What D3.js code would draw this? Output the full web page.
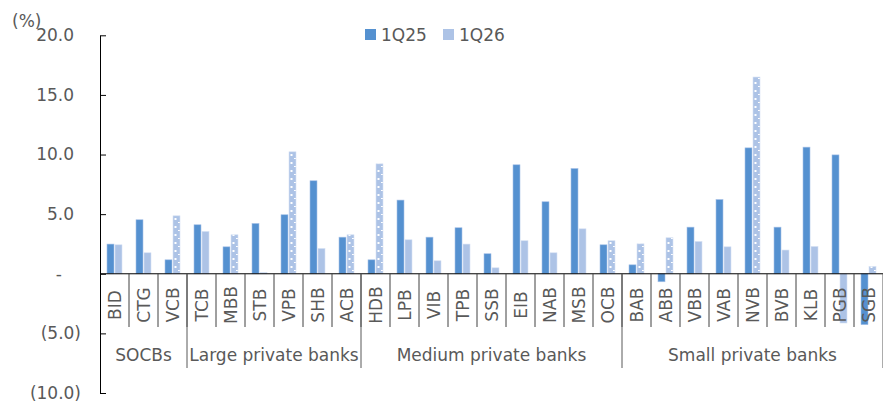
<!DOCTYPE html>
<html>
<head>
<meta charset="utf-8">
<script src="https://cdn.jsdelivr.net/npm/d3@7"></script>
<style>
  body { margin: 0; background: #fff; }
  text { font-family: "DejaVu Sans", Verdana, sans-serif; fill: #595959; }
</style>
</head>
<body>
<div id="chart"></div>
<script>
// size of the picture
let w = 883;
let h = 407;
let fontSize = "17px";
let darkBlue = "#5591d0";
let lightBlue = "#adc3e6";

// data
let banks = ["BID","CTG","VCB","TCB","MBB","STB","VPB","SHB","ACB",
             "HDB","LPB","VIB","TPB","SSB","EIB","NAB","MSB","OCB",
             "BAB","ABB","VBB","VAB","NVB","BVB","KLB","PGB","SGB"];
let groupNames = ["SOCBs", "Large private banks", "Medium private banks", "Small private banks"];
let groupSizes = [3, 6, 9, 9];
let seriesNames = ["1Q25", "1Q26"];
let q25 = [2.49, 4.53, 1.17, 4.11, 2.26, 4.22, 4.95, 7.80, 3.07,
           1.17, 6.18, 3.07, 3.86, 1.68, 9.14, 6.04, 8.83, 2.43,
           0.75, -0.67, 3.91, 6.23, 10.56, 3.91, 10.62, 9.97, -4.27];
let q26 = [2.43, 1.76, 4.86, 3.55, 3.27, 0.10, 10.23, 2.12, 3.27,
           9.22, 2.85, 1.09, 2.49, 0.50, 2.77, 1.76, 3.77, 2.77,
           2.51, 3.02, 2.71, 2.26, 16.50, 1.99, 2.29, -4.13, 0.61];
// 1Q26 bars drawn with the dotted fill
let dotted = ["VCB","MBB","VPB","ACB","HDB","OCB","BAB","ABB","NVB","SGB"];
let yTicks = [-10, -5, 0, 5, 10, 15, 20];

let svg = d3.select("#chart")
            .append("svg")
            .attr("width", w)
            .attr("height", h);

// dotted pattern, user space of each bar group (bar starts at x=0)
let pat = svg.append("defs").append("pattern")
    .attr("id", "dots")
    .attr("patternUnits", "userSpaceOnUse")
    .attr("width", 7)
    .attr("height", 8);
pat.append("rect").attr("width", 7).attr("height", 8).attr("fill", lightBlue);
pat.append("rect").attr("x", 1.5).attr("y", 2).attr("width", 2).attr("height", 2).attr("fill", "#fff");
pat.append("rect").attr("x", 5).attr("y", 6).attr("width", 2).attr("height", 1).attr("fill", "#fff");

let x0 = d3.scaleBand().domain(banks).range([100, 883]).padding(0);
let x1 = d3.scaleBand().domain(seriesNames).range([7, 22]).paddingInner(0.125);
let y = d3.scaleLinear().domain([-10, 20]).range([393, 35.3]);

let rows = banks.map(function(b, i) {
    return {bank: b, values: [
        {key: "1Q25", value: q25[i], dotted: false},
        {key: "1Q26", value: q26[i], dotted: dotted.indexOf(b) >= 0}
    ]};
});

// bars
let bankG = svg.selectAll("g.bank")
    .data(rows)
    .enter()
    .append("g")
    .attr("class", "bank")
    .attr("transform", function(d) { return "translate(" + x0(d.bank) + ",0)"; });

bankG.selectAll("g.bar")
    .data(function(d) { return d.values; })
    .enter()
    .append("g")
    .attr("class", "bar")
    .attr("transform", function(d) { return "translate(" + x1(d.key) + ",0)"; })
    .append("rect")
    .attr("x", 0)
    .attr("width", x1.bandwidth())
    .attr("y", function(d) { return y(Math.max(0, d.value)); })
    .attr("height", function(d) { return Math.abs(y(d.value) - y(0)); })
    .attr("fill", function(d) {
        if (d.key == "1Q25") return darkBlue;
        return d.dotted ? "url(#dots)" : lightBlue;
    })
    .attr("stroke", function(d) { return d.key == "1Q25" ? "#a8c2e8" : "#d6e1f3"; })
    .attr("stroke-width", 0.6);

// y axis
let yAxis = d3.axisLeft(y)
    .tickValues(yTicks)
    .tickSizeInner(-6)
    .tickSizeOuter(0)
    .tickPadding(26)
    .tickFormat(function(d) {
        if (d == 0) return "-";
        if (d < 0) return "(" + d3.format(".1f")(-d) + ")";
        return d3.format(".1f")(d);
    });

let yG = svg.append("g")
    .attr("transform", "translate(100,0)")
    .call(yAxis);
yG.select(".domain").attr("stroke", "#000");
yG.selectAll(".tick line").attr("stroke", "#000");
yG.selectAll(".tick text")
    .style("font-size", fontSize)
    .attr("fill", "#595959")
    .attr("x", function(d) {
        if (d == 0) return -38;
        if (d < 0) return -19;
        return -26;
    });

// zero line
svg.append("line")
    .attr("x1", 100).attr("x2", 883)
    .attr("y1", y(0)).attr("y2", y(0))
    .attr("stroke", "#000");

// category separators
svg.selectAll("line.catTick")
    .data(banks.slice(1))
    .enter()
    .append("line")
    .attr("class", "catTick")
    .attr("x1", function(d) { return x0(d); })
    .attr("x2", function(d) { return x0(d); })
    .attr("y1", y(0))
    .attr("y2", 327)
    .attr("stroke", "#404040");

// category labels
svg.selectAll("text.cat")
    .data(banks)
    .enter()
    .append("text")
    .attr("class", "cat")
    .style("font-size", fontSize)
    .attr("text-anchor", "middle")
    .attr("dominant-baseline", "central")
    .attr("transform", function(d) {
        return "translate(" + (x0(d) + x0.bandwidth() / 2) + ",305) rotate(-90)";
    })
    .text(function(d) { return d; });

// group separators and labels
let start = 0;
let groupData = groupNames.map(function(g, i) {
    let o = {name: g, x1: x0(banks[start]), x2: x0(banks[start]) + groupSizes[i] * x0.bandwidth()};
    start += groupSizes[i];
    return o;
});

svg.selectAll("line.grp")
    .data(groupData)
    .enter()
    .append("line")
    .attr("class", "grp")
    .attr("x1", function(d) { return d.x2; })
    .attr("x2", function(d) { return d.x2; })
    .attr("y1", y(0))
    .attr("y2", 368)
    .attr("stroke", "#595959");

svg.selectAll("text.grp")
    .data(groupData)
    .enter()
    .append("text")
    .attr("class", "grp")
    .style("font-size", fontSize)
    .attr("text-anchor", "middle")
    .attr("dominant-baseline", "central")
    .attr("x", function(d) { return (d.x1 + d.x2) / 2; })
    .attr("y", 355)
    .text(function(d) { return d.name; });

// unit label
svg.append("text")
    .style("font-size", fontSize)
    .attr("x", 12)
    .attr("y", 21)
    .attr("dominant-baseline", "central")
    .text("(%)");

// legend
let legendX = [365, 443];
let legend = svg.selectAll("g.legend")
    .data(seriesNames)
    .enter()
    .append("g")
    .attr("class", "legend")
    .attr("transform", function(d, i) { return "translate(" + legendX[i] + ",29)"; });
legend.append("rect")
    .attr("width", 11)
    .attr("height", 11)
    .attr("fill", function(d, i) { return i == 0 ? darkBlue : lightBlue; });
legend.append("text")
    .style("font-size", fontSize)
    .attr("x", 16)
    .attr("y", 5.5)
    .attr("dominant-baseline", "central")
    .text(function(d) { return d; });
</script>
</body>
</html>
